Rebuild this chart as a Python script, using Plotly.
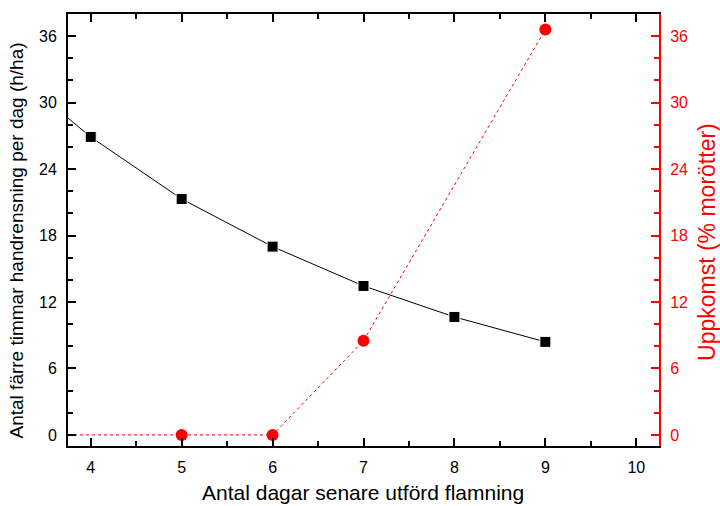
import plotly.graph_objects as go

# Days of delayed flaming
days_hours = [4, 5, 6, 7, 8, 9]
# Fewer hours of hand weeding per day (h/ha)
hours_saved = [26.9, 21.3, 17.0, 13.45, 10.65, 8.4]
# Fitted trend for hours saved, starting at the left edge of the axis
trend_x = [3.75, 4, 5, 6, 7, 8, 9]
trend_y = [28.6, 26.9, 21.3, 17.0, 13.45, 10.65, 8.4]

# Emergence of carrots (%)
days_emerg = [5, 6, 7, 9]
emergence = [0.0, 0.0, 8.5, 36.6]
emerg_line_x = [3.75, 5, 6, 7, 9]
emerg_line_y = [0.0, 0.0, 0.0, 8.5, 36.6]

x_ticks = [4, 5, 6, 7, 8, 9, 10]
y_ticks = [0, 6, 12, 18, 24, 30, 36]

x_title = "Antal dagar senare utförd flamning"
y_title = "Antal färre timmar handrensning per dag (h/ha)"
y2_title = "Uppkomst (% morötter)"

FONT = "Liberation Sans, Arial, sans-serif"
RED = "#ff0000"

fig = go.Figure()

fig.add_trace(go.Scatter(
    x=trend_x, y=trend_y, mode="lines",
    line=dict(color="black", width=1), showlegend=False, hoverinfo="skip"))
fig.add_trace(go.Scatter(
    x=days_hours, y=hours_saved, mode="markers",
    marker=dict(symbol="square", size=11, color="black",
                line=dict(color="white", width=1)),
    showlegend=False))

fig.add_trace(go.Scatter(
    x=emerg_line_x, y=emerg_line_y, mode="lines", yaxis="y2",
    line=dict(color=RED, width=1, dash="dot"), showlegend=False,
    hoverinfo="skip"))
fig.add_trace(go.Scatter(
    x=days_emerg, y=emergence, mode="markers", yaxis="y2",
    marker=dict(symbol="circle", size=12, color=RED),
    showlegend=False))

# Axis titles placed in pixel terms inside the fixed margins
fig.add_annotation(text=x_title, xref="paper", yref="paper",
                   x=0.4984, y=-0.108, xanchor="center", yanchor="middle",
                   showarrow=False, font=dict(size=21, color="black"))
fig.add_annotation(text=y_title, xref="paper", yref="paper",
                   x=-0.0878, y=0.476, xanchor="center", yanchor="middle",
                   textangle=-90, showarrow=False,
                   font=dict(size=19, color="black"))
fig.add_annotation(text=y2_title, xref="paper", yref="paper",
                   x=1.081, y=0.472, xanchor="center", yanchor="middle",
                   textangle=-90, showarrow=False,
                   font=dict(size=23, color=RED))

fig.update_layout(
    width=720, height=506,
    margin=dict(l=68, r=61, t=14, b=60, autoexpand=False),
    paper_bgcolor="white", plot_bgcolor="white",
    font=dict(family=FONT, size=16, color="black"),
    xaxis=dict(
        range=[3.75, 10.25], tickvals=x_ticks, automargin=False,
        showline=True, linecolor="black", linewidth=2, mirror="ticks",
        ticks="inside", ticklen=8, tickwidth=2, tickcolor="black",
        minor=dict(dtick=0.5, tick0=0, ticks="inside", ticklen=5,
                   tickwidth=1.5, tickcolor="black"),
        showgrid=False, zeroline=False,
        tickfont=dict(size=16), ticklabelstandoff=6,
    ),
    yaxis=dict(
        range=[-1, 38], tickvals=y_ticks, automargin=False,
        showline=True, linecolor="black", linewidth=2,
        ticks="inside", ticklen=8, tickwidth=2, tickcolor="black",
        minor=dict(dtick=2, tick0=0, ticks="inside", ticklen=5,
                   tickwidth=1.5, tickcolor="black"),
        showgrid=False, zeroline=False,
        tickfont=dict(size=16), ticklabelstandoff=6,
    ),
    yaxis2=dict(
        range=[-1, 38], tickvals=y_ticks, overlaying="y", side="right",
        automargin=False,
        showline=True, linecolor=RED, linewidth=2,
        ticks="inside", ticklen=8, tickwidth=2, tickcolor=RED,
        minor=dict(dtick=2, tick0=0, ticks="inside", ticklen=5,
                   tickwidth=1.5, tickcolor=RED),
        showgrid=False, zeroline=False,
        tickfont=dict(size=16, color=RED), ticklabelstandoff=6,
    ),
)

fig.write_html("out.html")
